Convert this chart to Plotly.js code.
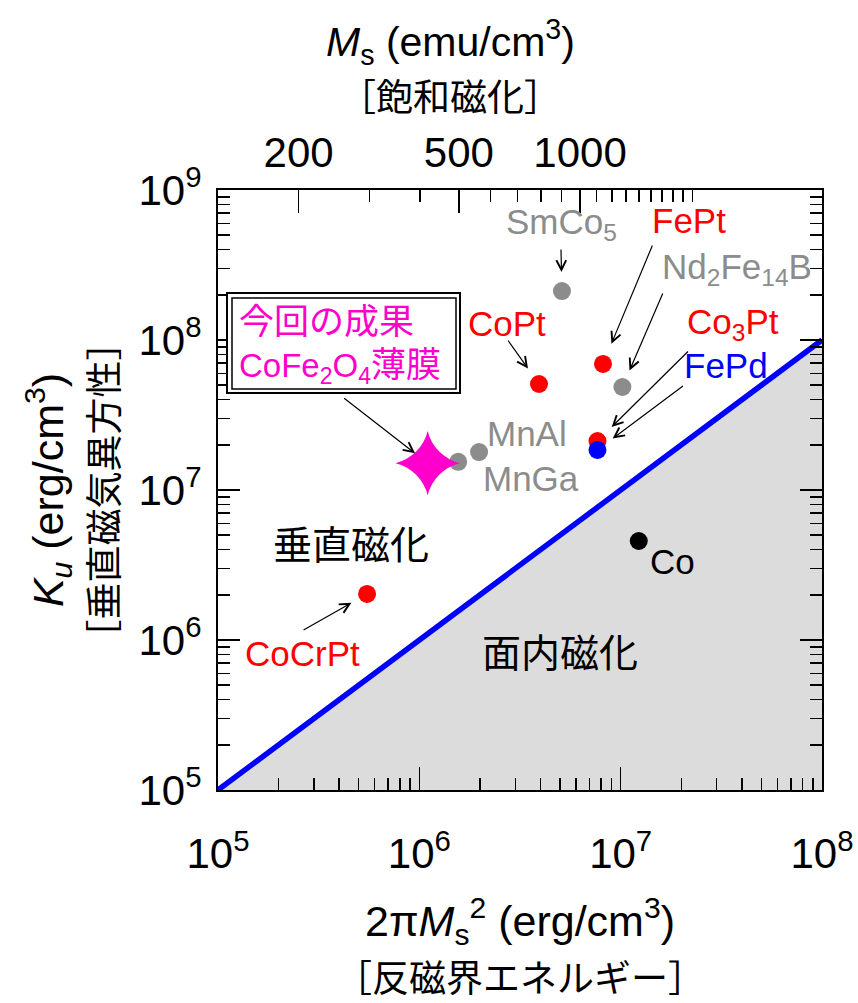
<!DOCTYPE html>
<html>
<head>
<meta charset="utf-8">
<script src="https://cdn.plot.ly/plotly-3.0.1.min.js"></script>
<style>
html,body{margin:0;padding:0;background:#fff;}
#chart{width:858px;height:1003px;}
</style>
</head>
<body>
<div id="chart"></div>
<script>
// ---- data ----
const materials = ["SmCo5","FePt","Nd2Fe14B","CoPt","Co3Pt","FePd","MnAl","MnGa","Co","CoCrPt"];
const demagEnergy = [5.11e6, 8.17e6, 1.02e7, 3.93e6, 7.67e6, 7.67e6, 1.98e6, 1.56e6, 1.23e7, 5.5e5];
const anisotropy  = [2.12e8, 6.92e7, 4.86e7, 5.09e7, 2.12e7, 1.85e7, 1.79e7, 1.54e7, 4.57e6, 2.03e6];
const pointColors = ["#8c8c8c","#ff0000","#8c8c8c","#ff0000","#ff0000","#0000ff","#8c8c8c","#8c8c8c","#000000","#ff0000"];
const thisWorkName = "CoFe2O4";
const thisWorkX = [1.10e6];
const thisWorkY = [1.51e7];
const boundaryX = [1e5, 1e8];
const boundaryY = [1e5, 1e8];
const decadeTicksX = [1e5, 1e6, 1e7, 1e8];
const decadeTicksY = [1e5, 1e6, 1e7, 1e8, 1e9];
const msMajor = [200, 500, 1000];
const msMajorLabels = ["200", "500", "1000"];
const msMinor = [300,400,600,700,800,900,1100,1200,1300,1400,1500,1600,1700,1800,1900];

// ---- helpers ----
const FONT = "Liberation Sans, Arial, Noto Sans CJK JP, sans-serif";
const CJK = "Noto Sans CJK JP, sans-serif";
const L = 218, R = 822, T = 190, B = 790;
const W = 858, H = 1003;
function px(x){ return (x - L) / (R - L); }
function py(y){ return (B - y) / (B - T); }
const demag = ms => 2 * Math.PI * ms * ms;
function minorDecades(lo, hi){
  const out = [];
  for (let e = lo; e < hi; e++) for (let d = 2; d <= 9; d++) out.push(d * Math.pow(10, e));
  return out;
}
const supLabel = v => "10<sup>" + Math.round(Math.log10(v)) + "</sup>";
const jp = (t, size) => '<span style="font-family:Noto Sans CJK JP;font-size:' + size + 'px">' + t + '</span>';

// ---- traces ----
const traces = [];
traces.push({
  x: [boundaryX[0], boundaryX[1], boundaryX[1], boundaryX[0]],
  y: [boundaryY[0], boundaryY[1], boundaryY[0], boundaryY[0]],
  mode: "lines", fill: "toself", fillcolor: "#dcdcdc",
  line: {width: 0, color: "rgba(0,0,0,0)"}, hoverinfo: "skip", showlegend: false
});
traces.push({
  x: boundaryX, y: boundaryY, mode: "lines",
  line: {color: "#0000ff", width: 5.5}, showlegend: false, hoverinfo: "skip"
});
traces.push({
  x: demagEnergy, y: anisotropy, mode: "markers", text: materials,
  marker: {size: 18, color: pointColors, line: {width: 0}}, showlegend: false
});
traces.push({
  x: thisWorkX, y: thisWorkY, mode: "markers", text: [thisWorkName],
  marker: {symbol: "star-diamond", size: 46, color: "#ff00cc", line: {width: 0}}, showlegend: false
});
traces.push({x: [], y: [], xaxis: "x2", yaxis: "y", showlegend: false, hoverinfo: "skip"});
traces.push({x: [], y: [], xaxis: "x3", yaxis: "y", showlegend: false, hoverinfo: "skip"});
traces.push({x: [], y: [], xaxis: "x4", yaxis: "y", showlegend: false, hoverinfo: "skip"});
traces.push({x: [], y: [], xaxis: "x", yaxis: "y2", showlegend: false, hoverinfo: "skip"});

// ---- annotations ----
const ann = [];
function label(text, cx, cy, color, size, extra){
  ann.push(Object.assign({
    xref: "paper", yref: "paper", x: px(cx), y: py(cy), xanchor: "center", yanchor: "middle",
    text: text, showarrow: false, font: {family: FONT, size: size || 35, color: color}
  }, extra || {}));
}
function arrow(i, ax, ay, standoff){
  ann.push({
    x: Math.log10(demagEnergy[i]), y: Math.log10(anisotropy[i]), xref: "x", yref: "y",
    ax: ax, ay: ay, showarrow: true, arrowhead: 5, arrowsize: 1.6, arrowwidth: 1.2,
    arrowcolor: "#000", standoff: standoff, text: ""
  });
}
label("SmCo<sub>5</sub>", 561, 224, "#8c8c8c");
label("FePt", 689, 221, "#ff0000");
label("Nd<sub>2</sub>Fe<sub>14</sub>B", 737, 269, "#8c8c8c");
label("CoPt", 507, 323, "#ff0000");
label("Co<sub>3</sub>Pt", 733, 324, "#ff0000");
label("FePd", 726, 365, "#0000ff");
label("MnAl", 527, 433, "#8c8c8c");
label("MnGa", 531, 478, "#8c8c8c");
label("Co", 672, 561, "#000000");
label("CoCrPt", 302, 653, "#ff0000");
label("垂直磁化", 351, 542, "#000000", 39, {font: {family: CJK, size: 39, color: "#000"}});
label("面内磁化", 560, 650, "#000000", 39, {font: {family: CJK, size: 39, color: "#000"}});
label(jp("今回の成果", 35) + "<br>CoFe<sub>2</sub>O<sub>4</sub>" + jp("薄膜", 35), 237, 341, "#ff00cc", 33,
      {xanchor: "left", align: "left"});

arrow(0, -1, -43, 19);
arrow(1, 50, -120, 22);
arrow(2, 41, -95, 18);
arrow(3, -32, -45, 19);
arrow(4, 92, -91, 20);
arrow(5, 87, -65, 19);
arrow(9, -65, 37, 18);
ann.push({
  x: Math.log10(thisWorkX[0]), y: Math.log10(thisWorkY[0]), xref: "x", yref: "y",
  ax: -85, ay: -66, showarrow: true, arrowhead: 5, arrowsize: 1.6, arrowwidth: 1.2,
  arrowcolor: "#000", standoff: 16, text: ""
});
// top axis title (two lines)
label("<i>M</i><sub>s</sub> (emu/cm<sup>3</sup>)", 450, 42, "#000000", 41);
label("［飽和磁化］", 450, 95, "#000000", 37, {font: {family: CJK, size: 37, color: "#000"}});

const shapes = [
  {type: "rect", xref: "paper", yref: "paper", x0: px(227), x1: px(460), y0: py(393), y1: py(293),
   line: {color: "#000", width: 2}, fillcolor: "#fff", layer: "above"},
  {type: "rect", xref: "paper", yref: "paper", x0: px(232), x1: px(456), y0: py(389), y1: py(298),
   line: {color: "#000", width: 1.5}, layer: "above"}
];

const axisCommon = {type: "log", showgrid: false, zeroline: false};
const layout = {
  width: W, height: H,
  margin: {l: L, r: W - R, t: T, b: H - B},
  paper_bgcolor: "#fff", plot_bgcolor: "#fff",
  font: {family: FONT, color: "#000"},
  showlegend: false,
  xaxis: Object.assign({}, axisCommon, {
    range: [5, 8], tickvals: decadeTicksX, ticktext: decadeTicksX.map(supLabel),
    ticks: "inside", ticklen: 23, tickwidth: 1.5, tickcolor: "#000",
    showline: true, linewidth: 2, linecolor: "#000", mirror: true,
    tickfont: {family: FONT, size: 42}, ticklabelstandoff: 26,
    title: {text: "2π<i>M</i><sub>s</sub><sup>2</sup> (erg/cm<sup>3</sup>)<br>" + jp("［反磁界エネルギー］", 37),
            font: {family: FONT, size: 43}, standoff: 30}
  }),
  xaxis3: Object.assign({}, axisCommon, {
    range: [5, 8], overlaying: "x", anchor: "y", side: "bottom",
    tickvals: minorDecades(5, 8), ticks: "inside", ticklen: 12, tickwidth: 1.5, tickcolor: "#000",
    showticklabels: false, showline: false
  }),
  xaxis2: Object.assign({}, axisCommon, {
    range: [5, 8], overlaying: "x", anchor: "y", side: "top",
    tickvals: msMajor.map(demag), ticktext: msMajorLabels,
    ticks: "inside", ticklen: 23, tickwidth: 1.5, tickcolor: "#000",
    tickfont: {family: FONT, size: 42}, ticklabelstandoff: 14, showline: false
  }),
  xaxis4: Object.assign({}, axisCommon, {
    range: [5, 8], overlaying: "x", anchor: "y", side: "top",
    tickvals: msMinor.map(demag), ticks: "inside", ticklen: 12, tickwidth: 1.5, tickcolor: "#000",
    showticklabels: false, showline: false
  }),
  yaxis: Object.assign({}, axisCommon, {
    range: [5, 9], tickvals: decadeTicksY, ticktext: decadeTicksY.map(supLabel),
    ticks: "inside", ticklen: 22, tickwidth: 1.5, tickcolor: "#000",
    showline: true, linewidth: 2, linecolor: "#000", mirror: "ticks",
    tickfont: {family: FONT, size: 42}, ticklabelstandoff: 6,
    title: {text: "<i>K<sub>u</sub></i> (erg/cm<sup>3</sup>)<br>" + jp("［垂直磁気異方性］", 37),
            font: {family: FONT, size: 43}, standoff: 6}
  }),
  yaxis2: Object.assign({}, axisCommon, {
    range: [5, 9], overlaying: "y", anchor: "x", side: "left",
    tickvals: minorDecades(5, 9), ticks: "inside", ticklen: 12, tickwidth: 1.5, tickcolor: "#000",
    showticklabels: false, showline: false, mirror: "ticks"
  }),
  annotations: ann,
  shapes: shapes
};

Plotly.newPlot("chart", traces, layout, {staticPlot: true, displayModeBar: false});
</script>
</body>
</html>
